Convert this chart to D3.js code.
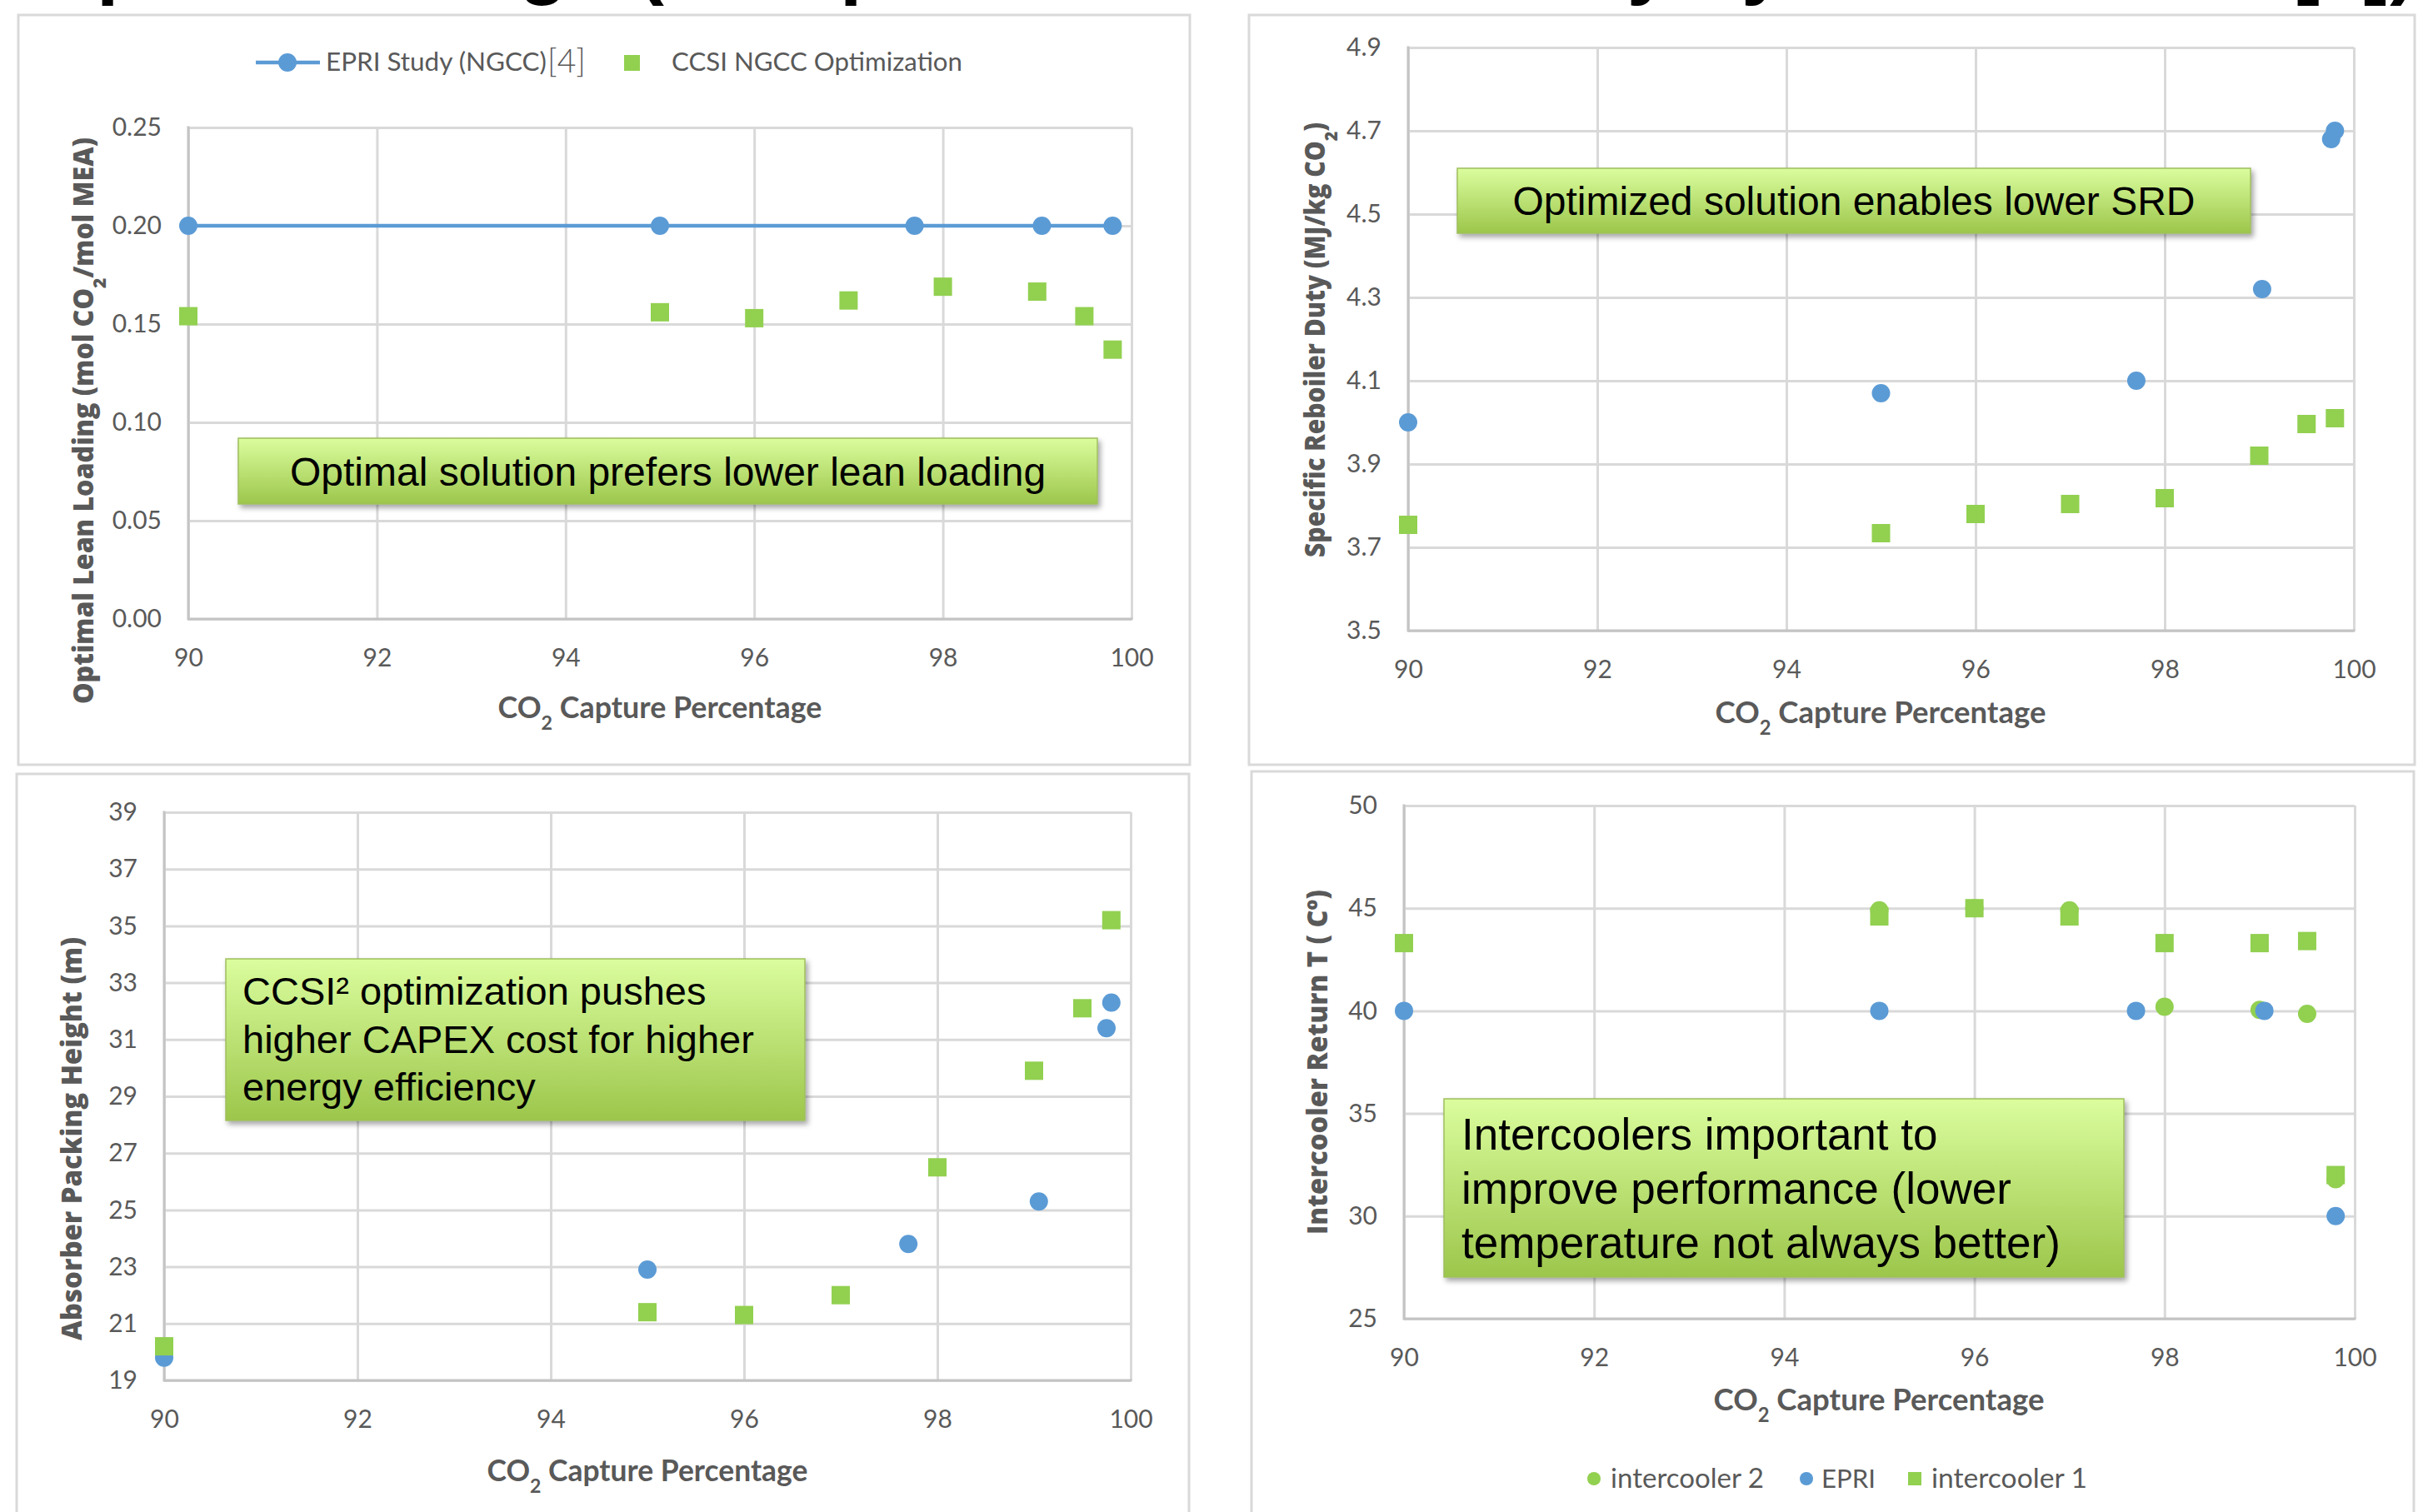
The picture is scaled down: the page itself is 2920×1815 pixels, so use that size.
<!DOCTYPE html>
<html><head><meta charset="utf-8">
<script src="https://cdn.jsdelivr.net/npm/d3@7"></script>
<style>
html,body{margin:0;padding:0;background:#fff;}
svg{display:block;}
</style></head>
<body>
<svg id="c" width="2920" height="1815"></svg>
<script>
// ---------------- DATA ----------------
const xTicks = [90, 92, 94, 96, 98, 100];

// Panel A: optimal lean loading
const leanEpriX = [90, 95, 97.7, 99.05, 99.8];
const leanEpriY = [0.20, 0.20, 0.20, 0.20, 0.20];
const leanCcsiX = [90, 95, 96, 97, 98, 99, 99.5, 99.8];
const leanCcsiY = [0.154, 0.156, 0.153, 0.162, 0.169, 0.1665, 0.154, 0.137];
const leanYTicks = [0, 0.05, 0.10, 0.15, 0.20, 0.25];

// Panel B: specific reboiler duty
const srdEpriX = [90, 95, 97.7, 99.03, 99.76, 99.8];
const srdEpriY = [4.00, 4.07, 4.10, 4.32, 4.68, 4.70];
const srdCcsiX = [90, 95, 96, 97, 98, 99, 99.5, 99.8];
const srdCcsiY = [3.754, 3.734, 3.78, 3.804, 3.818, 3.92, 3.996, 4.01];
const srdYTicks = [3.5, 3.7, 3.9, 4.1, 4.3, 4.5, 4.7, 4.9];

// Panel C: absorber packing height
const packEpriX = [90, 95, 97.7, 99.05, 99.75, 99.8];
const packEpriY = [19.8, 22.9, 23.8, 25.3, 31.4, 32.3];
const packCcsiX = [90, 95, 96, 97, 98, 99, 99.5, 99.8];
const packCcsiY = [20.2, 21.4, 21.3, 22.0, 26.5, 29.9, 32.1, 35.2];
const packYTicks = [19, 21, 23, 25, 27, 29, 31, 33, 35, 37, 39];

// Panel D: intercooler return temperature
const ic2X = [95, 96, 97, 98, 99, 99.5, 99.8];
const ic2Y = [44.9, 45.0, 44.9, 40.2, 40.05, 39.85, 31.8];
const icEpriX = [90, 95, 97.7, 99.05, 99.8];
const icEpriY = [40, 40, 40, 40, 30];
const ic1X = [90, 95, 96, 97, 98, 99, 99.5, 99.8];
const ic1Y = [43.3, 44.6, 45.0, 44.6, 43.3, 43.3, 43.4, 32.0];
const icYTicks = [25, 30, 35, 40, 45, 50];

// ---------------- STYLE ----------------
const BLUE = '#5B9BD5', GREEN = '#92D050', GRAY = '#595959', GRID = '#d9d9d9';
const svg = d3.select('#c');
const defs = svg.append('defs');
const grad = defs.append('linearGradient').attr('id', 'boxGrad')
  .attr('x1', 0).attr('y1', 0).attr('x2', 0).attr('y2', 1);
grad.append('stop').attr('offset', '0%').attr('stop-color', '#dbfd9e');
grad.append('stop').attr('offset', '100%').attr('stop-color', '#9cc64b');
const flt = defs.append('filter').attr('id', 'shadow').attr('x', '-5%').attr('y', '-10%').attr('width', '115%').attr('height', '130%');
flt.append('feDropShadow').attr('dx', 3).attr('dy', 4).attr('stdDeviation', 3)
  .attr('flood-color', '#000').attr('flood-opacity', 0.35);

function fit(t, target) {
  const n = t.node();
  const w = n.getComputedTextLength();
  const fs = parseFloat(n.getAttribute('font-size'));
  n.setAttribute('font-size', (fs * target / w).toFixed(2));
  return fs * target / w;
}

// ---------------- TITLE (cut off at top, as in the reference slide) ----------------
svg.append('text').attr('x', 42).attr('y', -13)
  .attr('font-family', 'Liberation Sans, Arial, sans-serif').attr('font-weight', 700)
  .attr('font-size', 95).attr('fill', '#000')
  .text('Optimal Design (Comparison to EPRI Study by Fluor');
svg.append('text').attr('x', 2900).attr('y', -13).attr('text-anchor', 'end')
  .attr('font-family', 'Liberation Sans, Arial, sans-serif').attr('font-weight', 700)
  .attr('font-size', 95).attr('fill', '#000').text('[1])');

// ---------------- PANEL FRAMES ----------------
const frames = [[22, 18, 1428, 918], [1499, 18, 2898, 918], [20, 929, 1427, 1840], [1502, 926, 2897, 1840]];
frames.forEach(f => svg.append('rect').attr('x', f[0]).attr('y', f[1])
  .attr('width', f[2] - f[0]).attr('height', f[3] - f[1])
  .attr('fill', '#fff').attr('stroke', GRID).attr('stroke-width', 3));

// ---------------- PANEL BUILDER ----------------
function makePanel(o) {
  const x = d3.scaleLinear().domain([90, 100]).range([o.left, o.right]);
  const y = d3.scaleLinear().domain(o.yDomain).range([o.bottom, o.top]);
  const g = svg.append('g');
  const ax = g.append('g').attr('transform', `translate(0,${o.bottom})`)
    .call(d3.axisBottom(x).tickValues(xTicks).tickSize(-(o.bottom - o.top)).tickPadding(36).tickFormat(d3.format('d')));
  const ay = g.append('g').attr('transform', `translate(${o.left},0)`)
    .call(d3.axisLeft(y).tickValues(o.yTicks).tickSize(-(o.right - o.left)).tickPadding(32).tickFormat(o.fmt));
  [ax, ay].forEach(a => {
    a.select('.domain').remove();
    a.selectAll('line').attr('stroke', GRID).attr('stroke-width', 3);
    a.selectAll('text').attr('fill', GRAY).attr('font-family', 'Lato, sans-serif').attr('font-size', 30);
  });
  g.append('line').attr('x1', o.left).attr('x2', o.left).attr('y1', o.top - 1.5).attr('y2', o.bottom + 1.5)
    .attr('stroke', '#c4c4c4').attr('stroke-width', 3);
  g.append('line').attr('x1', o.left).attr('x2', o.right + 1.5).attr('y1', o.bottom).attr('y2', o.bottom)
    .attr('stroke', '#c4c4c4').attr('stroke-width', 3);
  return { x, y, g };
}

function circles(p, xs, ys, color, r) {
  p.g.append('g').selectAll('circle').data(xs.map((d, i) => [d, ys[i]])).join('circle')
    .attr('cx', d => p.x(d[0])).attr('cy', d => p.y(d[1])).attr('r', r || 11).attr('fill', color);
}
function squares(p, xs, ys, color, s) {
  s = s || 22;
  p.g.append('g').selectAll('rect').data(xs.map((d, i) => [d, ys[i]])).join('rect')
    .attr('x', d => p.x(d[0]) - s / 2).attr('y', d => p.y(d[1]) - s / 2)
    .attr('width', s).attr('height', s).attr('fill', color);
}

function xTitle(cx, cy, target) {
  const t = svg.append('text').attr('x', cx).attr('y', cy).attr('text-anchor', 'middle')
    .attr('font-family', 'Lato, sans-serif').attr('font-weight', 700).attr('font-size', 32).attr('fill', GRAY);
  t.append('tspan').text('CO');
  t.append('tspan').attr('font-size', '0.65em').attr('baseline-shift', 'sub').text('2');
  t.append('tspan').text(' Capture Percentage');
  const fs = fit(t, target);
  t.attr('y', cy + fs * 0.36);
}

function yTitle(cx, cy, target, parts) {
  const fs = 33;
  const t = svg.append('text').attr('text-anchor', 'middle')
    .attr('font-family', 'Open Sans, sans-serif').attr('font-weight', 800)
    .attr('font-size', fs).attr('fill', GRAY)
    .attr('textLength', target).attr('lengthAdjust', 'spacingAndGlyphs');
  parts.forEach(p => {
    const s = t.append('tspan').text(p[0]);
    if (p[1]) s.attr('font-size', '0.65em').attr('baseline-shift', 'sub');
  });
  t.attr('transform', `translate(${cx + fs * 0.36},${cy}) rotate(-90)`);
}

function noteBox(x0, y0, x1, y1, lines, o) {
  svg.append('rect').attr('x', x0).attr('y', y0).attr('width', x1 - x0).attr('height', y1 - y0)
    .attr('fill', 'url(#boxGrad)').attr('stroke', '#9fbf5e').attr('stroke-width', 1.5)
    .attr('filter', 'url(#shadow)');
  lines.forEach((ln, i) => {
    svg.append('text').attr('x', o.x).attr('y', o.y + i * (o.lh || 0))
      .attr('text-anchor', o.anchor || 'start')
      .attr('font-family', 'Liberation Sans, Arial, sans-serif').attr('font-size', o.fs)
      .attr('fill', '#000').text(ln);
  });
}

// ---------------- PANEL A ----------------
const pA = makePanel({ left: 226, right: 1358, top: 153, bottom: 743, yDomain: [0, 0.25], yTicks: leanYTicks, fmt: d3.format('.2f') });
pA.g.append('path').datum(leanEpriX.map((d, i) => [d, leanEpriY[i]]))
  .attr('d', d3.line().x(d => pA.x(d[0])).y(d => pA.y(d[1])))
  .attr('fill', 'none').attr('stroke', BLUE).attr('stroke-width', 4.5);
circles(pA, leanEpriX, leanEpriY, BLUE);
squares(pA, leanCcsiX, leanCcsiY, GREEN);
xTitle(792, 849, 389);
yTitle(100, 505, 680, [['Optimal Lean Loading (mol CO'], ['2', true], ['/mol MEA)']]);
// legend A
svg.append('line').attr('x1', 307).attr('x2', 384).attr('y1', 75).attr('y2', 75).attr('stroke', BLUE).attr('stroke-width', 4.5);
svg.append('circle').attr('cx', 345).attr('cy', 75).attr('r', 11).attr('fill', BLUE);
fit(svg.append('text').attr('x', 391).attr('y', 85).attr('font-family', 'Lato, sans-serif').attr('font-size', 28).attr('fill', GRAY).text('EPRI Study (NGCC)'), 265);
fit(svg.append('text').attr('x', 657).attr('y', 87).attr('font-family', 'Lato, sans-serif').attr('font-weight', 300).attr('font-size', 34).attr('fill', GRAY).text('[4]'), 46);
svg.append('rect').attr('x', 749).attr('y', 66).attr('width', 19).attr('height', 19).attr('fill', GREEN);
fit(svg.append('text').attr('x', 806).attr('y', 85).attr('font-family', 'Lato, sans-serif').attr('font-size', 28).attr('fill', GRAY).text('CCSI NGCC Optimization'), 349);
noteBox(286, 526, 1317, 605, ['Optimal solution prefers lower lean loading'], { x: 801.5, y: 583, fs: 48, anchor: 'middle' });

// ---------------- PANEL B ----------------
const pB = makePanel({ left: 1690, right: 2825, top: 57, bottom: 757, yDomain: [3.5, 4.9], yTicks: srdYTicks, fmt: d3.format('.1f') });
circles(pB, srdEpriX, srdEpriY, BLUE);
squares(pB, srdCcsiX, srdCcsiY, GREEN);
xTitle(2257, 855, 397);
yTitle(1578, 408, 522, [['Specific Reboiler Duty (MJ/kg CO'], ['2', true], [')']]);
noteBox(1749, 202, 2701, 280, ['Optimized solution enables lower SRD'], { x: 2225, y: 258, fs: 48, anchor: 'middle' });

// ---------------- PANEL C ----------------
const pC = makePanel({ left: 197, right: 1357, top: 975, bottom: 1657, yDomain: [19, 39], yTicks: packYTicks, fmt: d3.format('d') });
circles(pC, packEpriX, packEpriY, BLUE);
squares(pC, packCcsiX, packCcsiY, GREEN);
xTitle(777, 1765, 385);
yTitle(86, 1367, 484, [['Absorber Packing Height (m)']]);
noteBox(271, 1151, 966, 1345, ['CCSI\u00B2 optimization pushes', 'higher CAPEX cost for higher', 'energy efficiency'], { x: 291, y: 1206, lh: 57.5, fs: 47 });

// ---------------- PANEL D ----------------
const pD = makePanel({ left: 1685, right: 2826, top: 967, bottom: 1583, yDomain: [25, 50], yTicks: icYTicks, fmt: d3.format('d') });
circles(pD, ic2X, ic2Y, GREEN);
circles(pD, icEpriX, icEpriY, BLUE);
squares(pD, ic1X, ic1Y, GREEN);
xTitle(2255, 1680, 397);
yTitle(1581, 1275, 414, [['Intercooler Return T ( C\u00BA)']]);
noteBox(1733, 1319, 2549, 1533, ['Intercoolers important to', 'improve performance (lower', 'temperature not always better)'], { x: 1754, y: 1380, lh: 65, fs: 53 });
// legend D
svg.append('circle').attr('cx', 1913).attr('cy', 1775).attr('r', 8).attr('fill', GREEN);
fit(svg.append('text').attr('x', 1933).attr('y', 1786).attr('font-family', 'Lato, sans-serif').attr('font-size', 31).attr('fill', GRAY).text('intercooler 2'), 184);
svg.append('circle').attr('cx', 2168).attr('cy', 1775).attr('r', 8).attr('fill', BLUE);
fit(svg.append('text').attr('x', 2186).attr('y', 1786).attr('font-family', 'Lato, sans-serif').attr('font-size', 31).attr('fill', GRAY).text('EPRI'), 65);
svg.append('rect').attr('x', 2290).attr('y', 1767).attr('width', 16).attr('height', 16).attr('fill', GREEN);
fit(svg.append('text').attr('x', 2318).attr('y', 1786).attr('font-family', 'Lato, sans-serif').attr('font-size', 31).attr('fill', GRAY).text('intercooler 1'), 187);
</script>
</body></html>
